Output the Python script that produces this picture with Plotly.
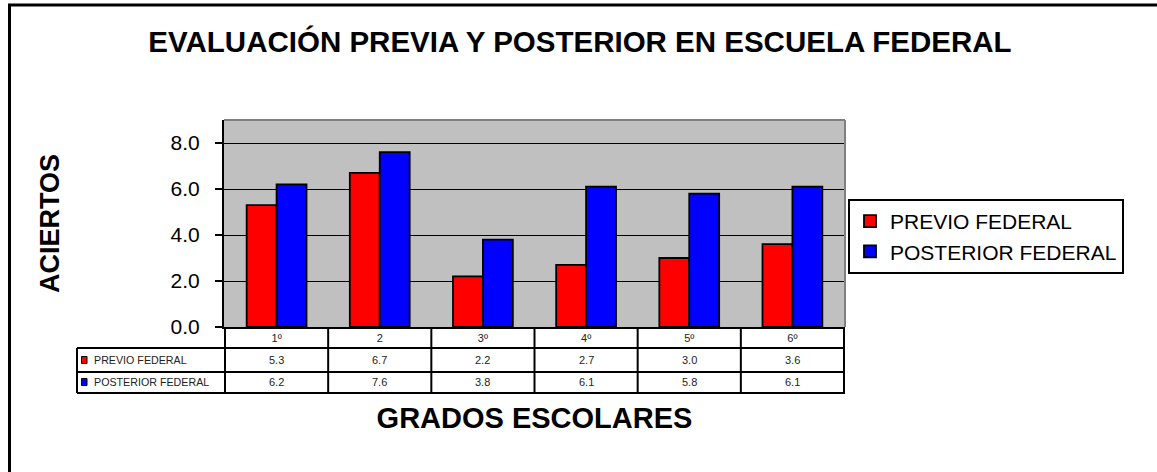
import plotly.graph_objects as go

categories = ["1º", "2", "3º", "4º", "5º", "6º"]
previo = [5.3, 6.7, 2.2, 2.7, 3.0, 3.6]
posterior = [6.2, 7.6, 3.8, 6.1, 5.8, 6.1]
series_names = ["PREVIO FEDERAL", "POSTERIOR FEDERAL"]
series_colors = ["#FF0000", "#0000FF"]
y_ticks = [0, 2, 4, 6, 8]

FONT = "Liberation Sans, Arial, sans-serif"

W, H = 1157, 472
L, R, T, B = 224, 845, 120, 327
pw, ph = R - L, B - T


def px_x(X):
    return (X - L) / pw


def px_y(Y):
    return (B - Y) / ph


fig = go.Figure()
for name, vals, col in zip(series_names, [previo, posterior], series_colors):
    fig.add_trace(go.Bar(
        x=categories, y=vals, name=name,
        marker=dict(color=col, line=dict(color="black", width=1.8)),
    ))

shapes = []
annotations = []

# outer chart border
shapes.append(dict(type="rect", xref="paper", yref="paper",
                   x0=px_x(9.5), x1=px_x(1162), y0=px_y(5), y1=px_y(478),
                   line=dict(color="black", width=3), fillcolor="rgba(0,0,0,0)",
                   layer="below"))
# plot area top/right gray border
shapes.append(dict(type="line", xref="paper", yref="paper", x0=0, x1=1, y0=1, y1=1,
                   line=dict(color="#808080", width=2)))
shapes.append(dict(type="line", xref="paper", yref="paper", x0=1, x1=1, y0=0, y1=1,
                   line=dict(color="#808080", width=2)))

# data table
row_lines = [348, 372, 393]
left_col = 77
for Y in row_lines:
    shapes.append(dict(type="line", xref="paper", yref="paper",
                       x0=px_x(left_col), x1=1, y0=px_y(Y), y1=px_y(Y),
                       line=dict(color="black", width=2)))
for i in range(len(categories) + 1):
    shapes.append(dict(type="line", xref="x", yref="paper",
                       x0=i - 0.5, x1=i - 0.5, y0=0, y1=px_y(393),
                       line=dict(color="black", width=2)))
shapes.append(dict(type="line", xref="paper", yref="paper",
                   x0=px_x(left_col), x1=px_x(left_col), y0=px_y(348), y1=px_y(393),
                   line=dict(color="black", width=2)))

row_centers = [360, 382]
for r, (name, vals, col) in enumerate(zip(series_names, [previo, posterior], series_colors)):
    yc = px_y(row_centers[r])
    for i, v in enumerate(vals):
        annotations.append(dict(x=i, xref="x", y=yc, yref="paper",
                                xanchor="center", yanchor="middle",
                                text=f"{v:.1f}", showarrow=False,
                                font=dict(family=FONT, size=11, color="#222")))
    annotations.append(dict(x=px_x(92), xref="paper", y=yc, yref="paper",
                            text=name, showarrow=False, xanchor="left", yanchor="middle",
                            font=dict(family=FONT, size=10.7, color="#222")))
    shapes.append(dict(type="rect", xref="paper", yref="paper",
                       x0=px_x(81.5), x1=px_x(87), y0=yc + 3.5 / ph, y1=yc - 3.5 / ph,
                       fillcolor=col, line=dict(color="black", width=1)))

fig.update_layout(
    width=W, height=H,
    margin=dict(l=L, r=W - R, t=T, b=H - B, autoexpand=False),
    paper_bgcolor="white",
    plot_bgcolor="#C0C0C0",
    font=dict(family=FONT, color="black"),
    barmode="group",
    bargap=0.42,
    bargroupgap=0,
    title=dict(text="<b>EVALUACIÓN PREVIA Y POSTERIOR EN ESCUELA FEDERAL</b>",
               x=580 / W, xref="container", xanchor="center",
               y=1 - 42 / H, yref="container", yanchor="middle",
               font=dict(family=FONT, size=29.5, color="black")),
    xaxis=dict(
        type="category", showline=True, linecolor="black", linewidth=2,
        ticks="", showgrid=False, automargin=False,
        tickfont=dict(family=FONT, size=11, color="#222"),
        title=dict(text="<b>GRADOS ESCOLARES</b>", standoff=64,
                   font=dict(family=FONT, size=29, color="black")),
    ),
    yaxis=dict(
        range=[0, 9], tickvals=y_ticks, tickformat=".1f",
        showline=True, linecolor="black", linewidth=2,
        ticks="outside", ticklen=7, tickwidth=2, tickcolor="black",
        ticklabelstandoff=11,
        showgrid=True, gridcolor="black", gridwidth=1, zeroline=False,
        automargin=False,
        tickfont=dict(family=FONT, size=21, color="black"),
        title=dict(text="<b>ACIERTOS</b>", standoff=103,
                   font=dict(family=FONT, size=27, color="black")),
    ),
    legend=dict(
        x=px_x(848), y=px_y(199), xanchor="left", yanchor="top",
        bordercolor="black", borderwidth=2, bgcolor="white",
        font=dict(family=FONT, size=21, color="black"),
        itemwidth=30, tracegroupgap=0,
    ),
    shapes=shapes,
    annotations=annotations,
)

fig.write_html("out.html", config={"displayModeBar": False},
               post_script="document.body.style.margin='0';")
